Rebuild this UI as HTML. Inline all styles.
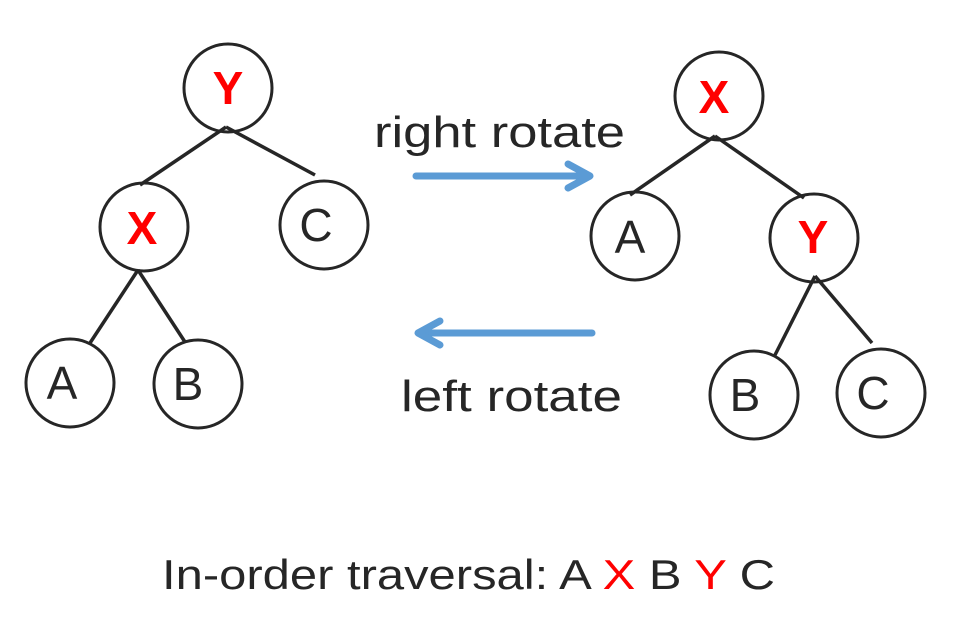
<!DOCTYPE html>
<html><head><meta charset="utf-8"><style>html,body{margin:0;padding:0;background:#fff}</style></head>
<body>
<svg width="971" height="634" viewBox="0 0 971 634" xmlns="http://www.w3.org/2000/svg" font-family="Liberation Sans, sans-serif">
<g stroke="#262626" stroke-width="3" fill="none">
<circle cx="228" cy="88" r="44"/>
<circle cx="144" cy="227" r="44"/>
<circle cx="324" cy="225" r="44"/>
<circle cx="70" cy="383" r="44"/>
<circle cx="198" cy="384" r="44"/>
<circle cx="719" cy="96" r="44"/>
<circle cx="635" cy="236" r="44"/>
<circle cx="814" cy="238" r="44"/>
<circle cx="754" cy="395" r="44"/>
<circle cx="881" cy="393" r="44"/>
</g>
<g stroke="#262626" stroke-width="3.5" fill="none">
<line x1="226" y1="127" x2="140" y2="185"/>
<line x1="226" y1="127" x2="315" y2="175"/>
<line x1="138" y1="270" x2="90" y2="343"/>
<line x1="138" y1="270" x2="185" y2="342"/>
<line x1="715" y1="136" x2="630" y2="195"/>
<line x1="715" y1="136" x2="804" y2="198"/>
<line x1="815" y1="276" x2="775" y2="355"/>
<line x1="815" y1="276" x2="872" y2="343"/>
</g>
<g font-size="46" text-anchor="middle" fill="#262626">
<text x="228" y="104" fill="#f00" font-weight="bold">Y</text>
<text x="142" y="244" fill="#f00" font-weight="bold">X</text>
<text x="316" y="241">C</text>
<text x="62" y="399">A</text>
<text x="188" y="400">B</text>
<text x="714" y="113" fill="#f00" font-weight="bold">X</text>
<text x="630" y="253">A</text>
<text x="813" y="253" fill="#f00" font-weight="bold">Y</text>
<text x="745" y="411">B</text>
<text x="873" y="409">C</text>
</g>
<g stroke="#5b9bd5" stroke-width="7" fill="none" stroke-linecap="round" stroke-linejoin="round">
<line x1="416" y1="176" x2="588" y2="176"/>
<polyline points="568,164 590,176 568,188"/>
<line x1="592" y1="333" x2="420" y2="333"/>
<polyline points="440,321 418,333 440,345"/>
</g>
<g font-size="44" fill="#262626">
<text x="374" y="147" textLength="251" lengthAdjust="spacingAndGlyphs">right rotate</text>
<text x="401" y="411" textLength="221" lengthAdjust="spacingAndGlyphs">left rotate</text>
<text x="162" y="589" font-size="42" textLength="613" lengthAdjust="spacingAndGlyphs">In-order traversal: A <tspan fill="#f00">X</tspan> B <tspan fill="#f00">Y</tspan> C</text>
</g>
</svg>
</body></html>
